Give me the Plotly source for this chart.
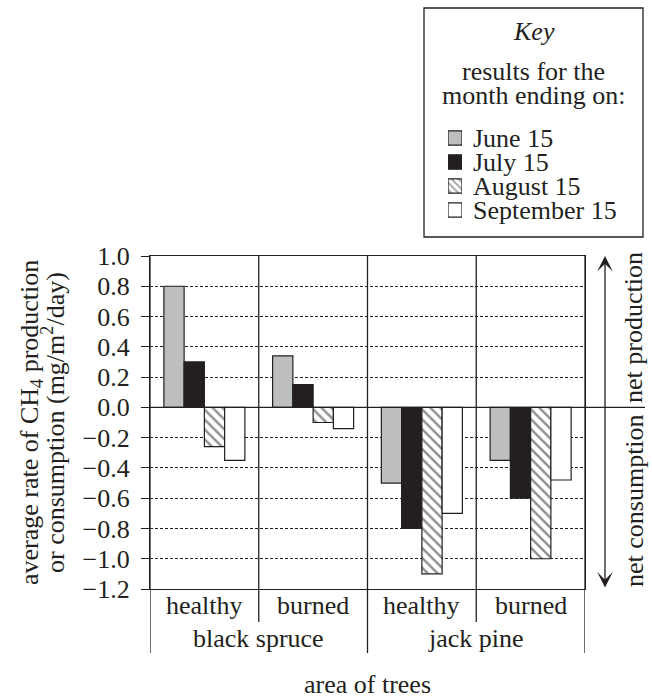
import plotly.graph_objects as go

# ---------------- data ----------------
condition = ["healthy", "burned", "healthy", "burned"]
area_keys = ["black spruce healthy", "black spruce burned", "jack pine healthy", "jack pine burned"]
species_groups = ["black spruce", "jack pine"]

months = ["June 15", "July 15", "August 15", "September 15"]
june = [0.80, 0.34, -0.50, -0.35]
july = [0.30, 0.15, -0.80, -0.60]
august = [-0.26, -0.10, -1.10, -1.00]
september = [-0.35, -0.14, -0.70, -0.48]
series_values = [june, july, august, september]

y_ticks = [-1.2, -1.0, -0.8, -0.6, -0.4, -0.2, 0.0, 0.2, 0.4, 0.6, 0.8, 1.0]

# ---------------- style ----------------
W, H = 652, 698
INK = "#231f20"
FONT = "Liberation Serif"
FS = 26
fills = ["#bcbec0", INK, "white", "white"]
patterns = ["", "", "\\", ""]


def fx(px):
    return px / W


def fy(py):
    return 1 - py / H


PLOT_L, PLOT_R, PLOT_T, PLOT_B = 150, 585, 256, 589

fig = go.Figure()

for name, vals, col, pat in zip(months, series_values, fills, patterns):
    fig.add_trace(go.Bar(
        x=area_keys, y=vals, name=name,
        marker=dict(color=col, line=dict(color=INK, width=1.2),
                    pattern=dict(shape=pat, fgcolor=INK, bgcolor=col, size=7, solidity=0.35)),
        showlegend=False, xaxis="x", yaxis="y",
    ))

# key swatches (drawn through a small helper axis pair)
fig.add_trace(go.Bar(
    y=months, x=[1] * len(months), orientation="h",
    width=0.6,
    marker=dict(color=fills, line=dict(color=INK, width=1.2),
                pattern=dict(shape=patterns, fgcolor=INK, bgcolor=fills, size=5, solidity=0.35)),
    showlegend=False, xaxis="x2", yaxis="y2", cliponaxis=False, hoverinfo="skip",
))

shapes = []
annotations = []


def label(text, x, y, xref="paper", yref="paper", angle=0, size=FS):
    annotations.append(dict(text=text, xref=xref, yref=yref, x=x, y=y, textangle=angle,
                            showarrow=False, xanchor="center", yanchor="middle",
                            font=dict(size=size, family=FONT, color=INK)))


# legend box
shapes.append(dict(type="rect", xref="paper", yref="paper",
                   x0=fx(424), x1=fx(643), y0=fy(237), y1=fy(8),
                   line=dict(color=INK, width=1.3), fillcolor="rgba(0,0,0,0)"))
for txt, py in [("<i>Key</i>", 31), ("results for the", 71), ("month ending on:", 95)]:
    label(txt, fx(533.5), fy(py))

# dividers between areas (inside plot and through label rows)
for xpos, bottom in [(-0.5, 653), (0.5, 622), (1.5, 653), (2.5, 622), (3.5, 653)]:
    shapes.append(dict(type="line", xref="x", yref="paper", x0=xpos, x1=xpos,
                       y0=fy(PLOT_T), y1=fy(bottom), line=dict(color=INK, width=1.3)))

# zero line extending to the right
shapes.append(dict(type="line", xref="paper", yref="y", x0=fx(PLOT_L), x1=fx(645), y0=0, y1=0,
                   line=dict(color=INK, width=1.3)))

# category labels
for i, c in enumerate(condition):
    label(c, i, fy(605), xref="x")
for j, s in enumerate(species_groups):
    label(s, 0.5 + 2 * j, fy(638), xref="x")
label("area of trees", fx((PLOT_L + PLOT_R) / 2), fy(684))

# y-axis title (two lines)
label("average rate of CH<sub>4</sub> production", fx(31), fy(423), angle=-90)
label("or consumption (mg/m<sup>2</sup>/day)", fx(53), fy(423), angle=-90)

# double-headed arrow on the right
annotations.append(dict(text="", xref="paper", yref="paper", x=fx(605), y=fy(PLOT_T),
                        axref="pixel", ayref="pixel", ax=0, ay=PLOT_B - PLOT_T,
                        showarrow=True, arrowhead=3, startarrowhead=3, arrowside="end+start",
                        arrowsize=2, startarrowsize=2, arrowwidth=1.3, arrowcolor=INK))
label("net production", fx(634), fy(328), angle=-90)
label("net consumption", fx(634), fy(501), angle=-90)

fig.update_layout(
    width=W, height=H,
    margin=dict(l=0, r=0, t=0, b=0, pad=0, autoexpand=False),
    paper_bgcolor="white", plot_bgcolor="white",
    font=dict(family=FONT, size=FS, color=INK),
    barmode="group", bargap=0.255, bargroupgap=0,
    showlegend=False,
    xaxis=dict(domain=[fx(PLOT_L), fx(PLOT_R)], anchor="y", type="category",
               categoryorder="array", categoryarray=area_keys, range=[-0.5, 3.5],
               showticklabels=False, ticks="", showgrid=False, zeroline=False,
               showline=True, mirror=True, linecolor=INK, linewidth=1.3, automargin=False),
    yaxis=dict(domain=[fy(PLOT_B), fy(PLOT_T)], anchor="x", range=[-1.2, 1.0],
               tickvals=y_ticks, tickformat=".1f", ticks="outside", ticklen=8,
               tickwidth=1.2, tickcolor=INK, ticklabelstandoff=6,
               tickfont=dict(size=FS, family=FONT, color=INK), automargin=False,
               showgrid=True, gridcolor=INK, gridwidth=1, griddash="3px,2px",
               zeroline=False, showline=True, mirror=True, linecolor=INK, linewidth=1.3),
    xaxis2=dict(domain=[fx(448), fx(462)], anchor="y2", range=[0, 1], visible=False,
                automargin=False),
    yaxis2=dict(domain=[fy(222), fy(126)], anchor="x2", type="category",
                categoryorder="array", categoryarray=months, autorange="reversed",
                tickmode="array", tickvals=months, ticktext=months, automargin=False,
                side="right", showgrid=False, zeroline=False, showline=False, ticks="",
                ticklabelstandoff=10, tickfont=dict(size=FS, family=FONT, color=INK)),
    shapes=shapes, annotations=annotations,
)

fig.write_html(
    "out.html",
    config={"displayModeBar": False},
    post_script="document.body.style.margin='0';document.body.style.overflow='hidden';",
)
